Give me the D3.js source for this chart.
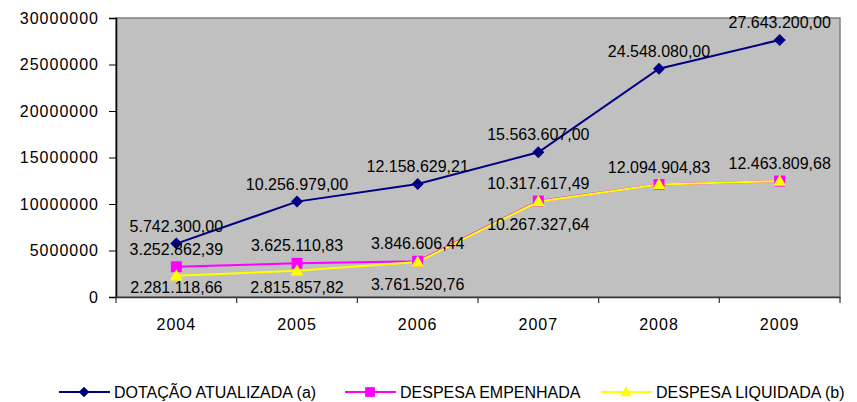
<!DOCTYPE html>
<html>
<head>
<meta charset="utf-8">
<script src="https://cdn.jsdelivr.net/npm/d3@7"></script>
<style>
  body { margin: 0; background: #fff; }
  text { font-family: "Liberation Sans", Arial, sans-serif; }
</style>
</head>
<body>
<div id="chart"></div>
<script>
// data
var years = ["2004", "2005", "2006", "2007", "2008", "2009"];
var dotacao = [5742300.00, 10256979.00, 12158629.21, 15563607.00, 24548080.00, 27643200.00];
var empenhada = [3252862.39, 3625110.83, 3846606.44, 10317617.49, 12094904.83, 12463809.68];
var liquidada = [2281118.66, 2815857.82, 3761520.76, 10267327.64, 12094904.83, 12463809.68];
var yTicks = [0, 5000000, 10000000, 15000000, 20000000, 25000000, 30000000];
var seriesNames = ["DOTAÇÃO ATUALIZADA (a)", "DESPESA EMPENHADA", "DESPESA LIQUIDADA (b)"];

var W = 857, H = 402;
var plotL = 116, plotT = 18, plotR = 840, plotB = 297;

var svg = d3.select("#chart").append("svg").attr("width", W).attr("height", H);

var x = d3.scaleBand().domain(years).range([plotL, plotR]).padding(0);
var y = d3.scaleLinear().domain([0, 30000000]).range([plotB, plotT]);

var br = d3.formatLocale({decimal: ",", thousands: ".", grouping: [3], currency: ["", ""]}).format(",.2f");

// plot area
svg.append("rect")
  .attr("x", plotL).attr("y", plotT)
  .attr("width", plotR - plotL).attr("height", plotB - plotT)
  .attr("fill", "#c0c0c0")
  .attr("stroke", "#808080")
  .attr("stroke-width", 1.5);

// y axis
var yAxis = svg.append("g")
  .attr("transform", "translate(" + plotL + ",0)")
  .call(d3.axisLeft(y).tickValues(yTicks).tickSize(7).tickPadding(10).tickFormat(d3.format("d")));
yAxis.select(".domain").attr("stroke", "#000").attr("stroke-width", 1.5);
yAxis.selectAll(".tick line").attr("stroke", "#000");
yAxis.selectAll(".tick text")
  .attr("font-size", "16px")
  .attr("letter-spacing", "1px")
  .attr("fill", "#000")
  .style("font-family", "'Liberation Sans', Arial, sans-serif");

// x axis
var xAxis = svg.append("g")
  .attr("transform", "translate(0," + plotB + ")")
  .call(d3.axisBottom(x).tickSize(0).tickPadding(22));
xAxis.select(".domain").attr("stroke", "#333").attr("stroke-width", 1.5);
xAxis.selectAll(".tick text")
  .attr("font-size", "16px")
  .attr("letter-spacing", "1px")
  .attr("fill", "#000")
  .style("font-family", "'Liberation Sans', Arial, sans-serif");

var bounds = years.map(function(d) { return x(d); }).concat([plotR]);
svg.append("g").selectAll("line")
  .data(bounds).enter().append("line")
  .attr("x1", function(d) { return d; }).attr("x2", function(d) { return d; })
  .attr("y1", plotB).attr("y2", plotB + 6)
  .attr("stroke", "#333").attr("stroke-width", 1.2);

function cx(i) { return x(years[i]) + x.bandwidth() / 2; }

// diamond = rotated square
var symbols = [d3.symbolSquare, d3.symbolSquare, d3.symbolTriangle];
var symSizes = [72, 120, 72];
var symRot = ["rotate(45)", "", ""];
var symDy = [0, 0, 1];
var colors = ["#000080", "#ff00ff", "#ffff00"];
var allSeries = [dotacao, empenhada, liquidada];

var line = d3.line()
  .x(function(d, i) { return cx(i); })
  .y(function(d) { return y(d); });

allSeries.forEach(function(vals, s) {
  svg.append("path")
    .datum(vals)
    .attr("d", line)
    .attr("fill", "none")
    .attr("stroke", colors[s])
    .attr("stroke-width", 2);
});

allSeries.forEach(function(vals, s) {
  svg.append("g").selectAll("path")
    .data(vals).enter().append("path")
    .attr("d", d3.symbol().type(symbols[s]).size(symSizes[s]))
    .attr("transform", function(d, i) {
      return "translate(" + cx(i) + "," + (y(d) + symDy[s]) + ")" + symRot[s];
    })
    .attr("fill", colors[s]);
});

// data labels
var labels = svg.append("g").attr("font-size", "16px").attr("fill", "#000").attr("text-anchor", "middle");
dotacao.forEach(function(v, i) {
  labels.append("text").attr("x", cx(i)).attr("y", y(v) - 12).text(br(v));
});
empenhada.forEach(function(v, i) {
  labels.append("text").attr("x", cx(i)).attr("y", y(v) - 12).text(br(v));
});
liquidada.forEach(function(v, i) {
  if (v === empenhada[i]) return; // coincides with empenhada, label hidden
  labels.append("text").attr("x", cx(i)).attr("y", Math.min(y(v) + 28, plotB - 4)).text(br(v));
});

// legend
var legX = [59, 345, 601];
var legY = 392;
var leg = svg.append("g");
seriesNames.forEach(function(name, s) {
  var g = leg.append("g").attr("transform", "translate(" + legX[s] + "," + legY + ")");
  g.append("line").attr("x1", 0).attr("x2", 51).attr("y1", 0).attr("y2", 0)
    .attr("stroke", colors[s]).attr("stroke-width", 2);
  g.append("path")
    .attr("d", d3.symbol().type(symbols[s]).size(symSizes[s] * 0.8))
    .attr("transform", "translate(25," + symDy[s] + ")" + symRot[s])
    .attr("fill", colors[s]);
  g.append("text").attr("x", 55).attr("y", 6)
    .attr("font-size", "16px").attr("fill", "#000")
    .text(name);
});
</script>
</body>
</html>
